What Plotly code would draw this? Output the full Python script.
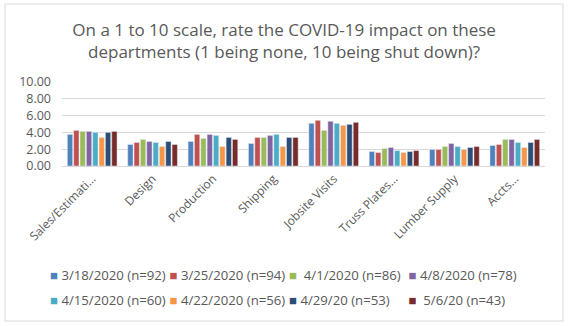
import plotly.graph_objects as go

categories = ["Sales/Estimati…", "Design", "Production", "Shipping",
              "Jobsite Visits", "Truss Plates…", "Lumber Supply", "Accts…"]

series_names = ["3/18/2020 (n=92)", "3/25/2020 (n=94)", "\u00a04/1/2020 (n=86)", "4/8/2020 (n=78)",
                "4/15/2020 (n=60)", "4/22/2020 (n=56)", "4/29/20 (n=53)", "\u00a05/6/20 (n=43)"]

s_0318 = [3.76, 2.56, 2.92, 2.68, 5.08, 1.72, 1.96, 2.44]
s_0325 = [4.24, 2.80, 3.76, 3.40, 5.44, 1.60, 1.96, 2.56]
s_0401 = [4.12, 3.16, 3.28, 3.40, 4.24, 2.08, 2.32, 3.16]
s_0408 = [4.12, 2.92, 3.76, 3.64, 5.32, 2.20, 2.68, 3.16]
s_0415 = [4.00, 2.80, 3.64, 3.76, 5.08, 1.84, 2.32, 2.80]
s_0422 = [3.40, 2.32, 2.32, 2.32, 4.84, 1.60, 1.96, 2.20]
s_0429 = [4.00, 2.92, 3.40, 3.40, 4.96, 1.72, 2.20, 2.80]
s_0506 = [4.12, 2.56, 3.16, 3.40, 5.20, 1.84, 2.32, 3.16]

series_values = [s_0318, s_0325, s_0401, s_0408, s_0415, s_0422, s_0429, s_0506]
colors = ["#4F81BD", "#C0504D", "#9BBB59", "#8064A2",
          "#4BACC6", "#F79646", "#2C4D75", "#772C2A"]

y_ticks = [0, 2, 4, 6, 8, 10]

FONT = "Open Sans"
GRAY = "#595959"

fig = go.Figure()
for i, (name, vals, col) in enumerate(zip(series_names, series_values, colors)):
    fig.add_trace(go.Bar(x=categories, y=vals, name=name, marker_color=col,
                         showlegend=False, legendgroup=str(i)))

legend_layouts = {}
for i, (name, col) in enumerate(zip(series_names, colors)):
    key = "legend" if i == 0 else f"legend{i + 1}"
    label = f"<span style='color:{col}'>■</span>\u00a0{name}"
    fig.add_trace(go.Scatter(x=[None], y=[None], mode="markers", name=label,
                             marker=dict(symbol="square", size=0.1, color="rgba(0,0,0,0)"),
                             legendgroup=str(i), legend=key))
    col_idx, row_idx = i % 4, i // 4
    legend_layouts[key] = dict(
        orientation="h", xref="container", yref="container",
        xanchor="left", yanchor="middle",
        x=(10 + 119.5 * col_idx) / 574,
        y=1 - (275 + 25.5 * row_idx) / 326,
        font=dict(family=FONT, size=13.2, color=GRAY),
        bgcolor="rgba(0,0,0,0)", itemwidth=30)

fig.update_layout(
    width=574, height=326,
    margin=dict(l=62, r=29, t=82, b=160),
    paper_bgcolor="white", plot_bgcolor="white",
    barmode="group", bargap=0.16, bargroupgap=0.16,
    font=dict(family=FONT, color=GRAY),
    title=dict(text="On a 1 to 10 scale, rate the COVID-19 impact on these<br>departments (1 being none, 10 being shut down)?",
               x=0.495, xanchor="center", xref="container",
               y=1 - 35.5 / 326, yanchor="top", yref="container",
               font=dict(family=FONT, size=17, color=GRAY)),
    xaxis=dict(tickangle=-45, tickfont=dict(family=FONT, size=12, color=GRAY),
               showgrid=False, showline=True, linecolor="#D9D9D9", linewidth=1,
               ticks="", automargin=False),
    yaxis=dict(range=[0, 10], tickvals=y_ticks, tickformat=".2f",
               tickfont=dict(family=FONT, size=12.5, color=GRAY),
               showgrid=True, gridcolor="#D9D9D9", gridwidth=1,
               zeroline=True, zerolinecolor="#D9D9D9", zerolinewidth=1,
               showline=False, ticks="", ticklabelstandoff=10, automargin=False),
    shapes=[dict(type="rect", xref="paper", yref="paper",
                 x0=(5 - 62) / 483, x1=(563 - 62) / 483,
                 y0=(166 - 321) / 84, y1=(166 - 4) / 84,
                 line=dict(color="#D9D9D9", width=1), fillcolor="rgba(0,0,0,0)",
                 layer="below")],
    **legend_layouts,
)

fig.write_html("out.html")
